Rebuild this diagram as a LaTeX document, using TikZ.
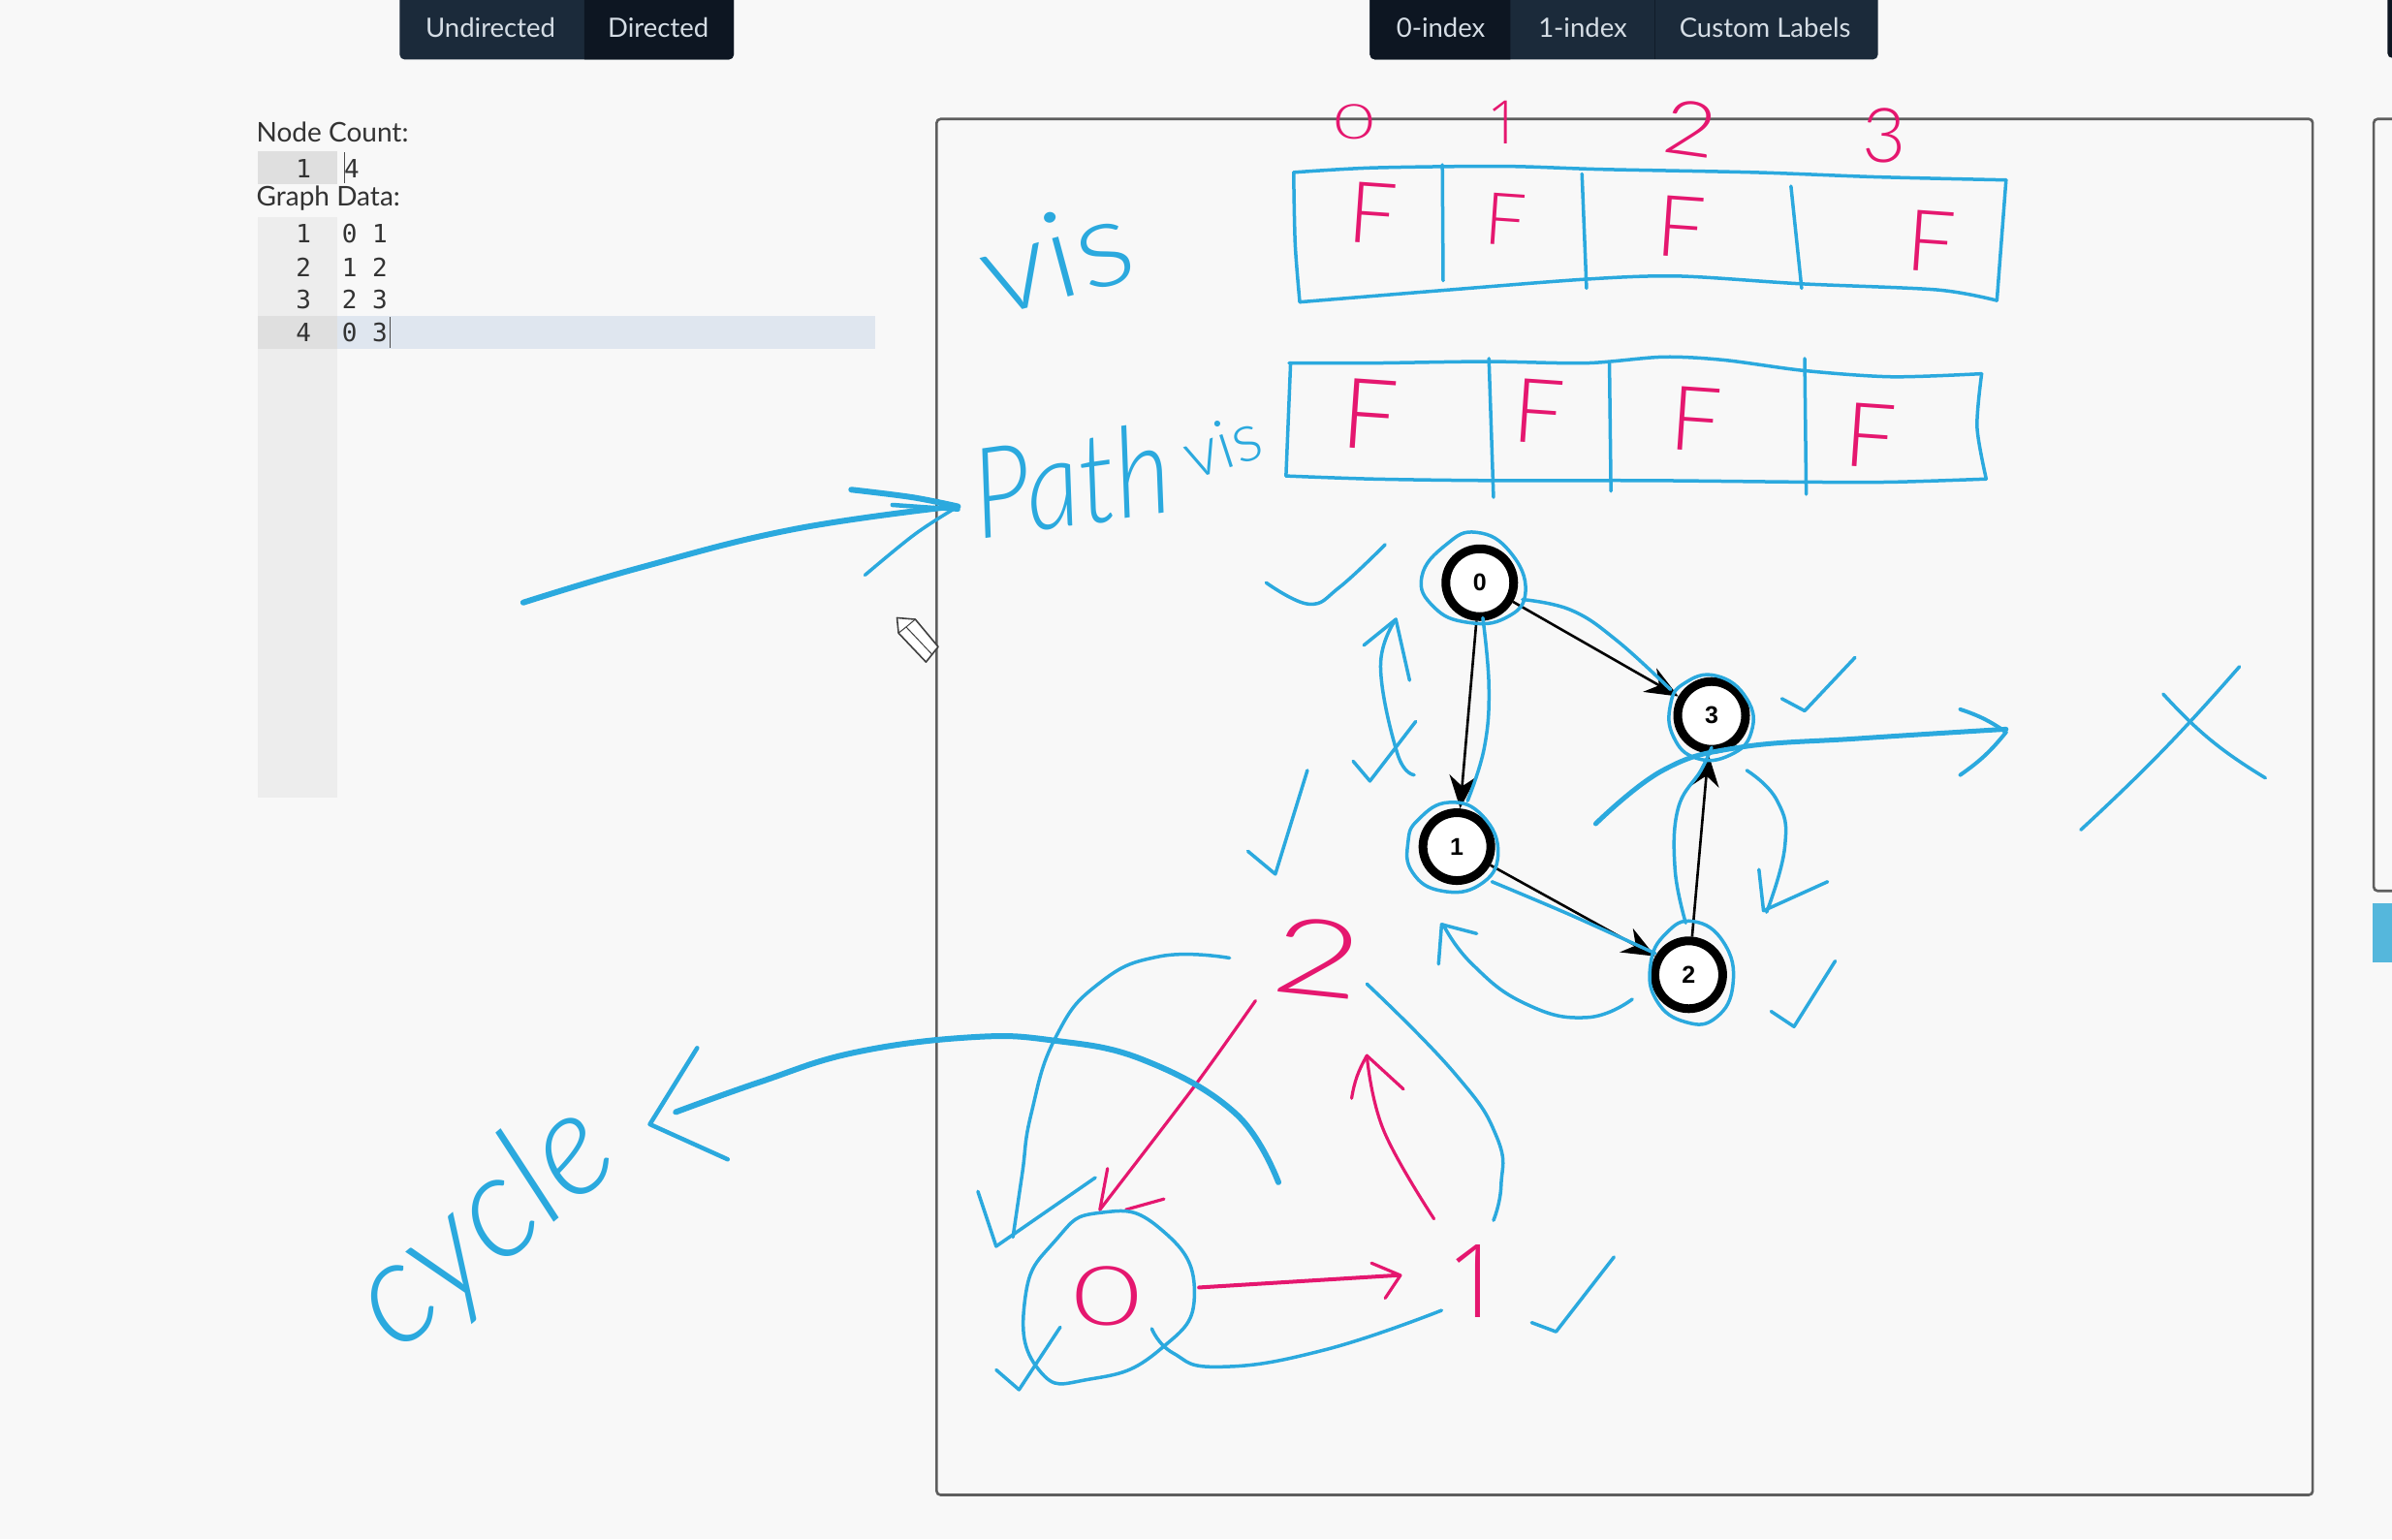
\documentclass[tikz,border=0pt]{standalone}
\usepackage{fontspec}
\usetikzlibrary{arrows.meta}
\newfontfamily\uifont{Lato}
\newfontfamily\monofont{DejaVu Sans Mono}
\newfontfamily\handfont[ItalicFont={Lato Light Italic}]{Lato Light}
\newfontfamily\handone{Open Sans Light}
\newfontfamily\nodefont{Liberation Sans}
\definecolor{bg}{HTML}{F8F8F8}
\definecolor{inkblue}{HTML}{2BA9DE}
\definecolor{inkpink}{HTML}{E5176F}
\definecolor{navy}{HTML}{1B2A3A}
\definecolor{navydark}{HTML}{0D1622}
\definecolor{uitext}{HTML}{D5DDE5}
\definecolor{gutter}{HTML}{EDEDED}
\definecolor{gutterdark}{HTML}{DFDFDF}
\definecolor{rowhi}{HTML}{DFE6EF}
\definecolor{panelline}{HTML}{5E5E5E}
\definecolor{labeltext}{HTML}{333333}
\definecolor{sidebtn}{HTML}{55B7DC}
\tikzset{
  x=1.574pt,y=-1.574pt,
  ink/.style={draw=inkblue,line width=3.5pt,line cap=round,line join=round},
  inkthick/.style={draw=inkblue,line width=6pt,line cap=round,line join=round},
  pinkline/.style={draw=inkpink,line width=3.2pt,line cap=round,line join=round},
  btnlabel/.style={text=uitext,inner sep=0pt,font=\uifont\fontsize{27.5}{27.5}\selectfont},
  formlabel/.style={text=labeltext,anchor=west,inner sep=0pt,font=\uifont\fontsize{28}{28}\selectfont},
  codetext/.style={text=labeltext,anchor=west,inner sep=0pt,font=\monofont\fontsize{26}{26}\selectfont},
  gutternum/.style={text=labeltext,inner sep=0pt,font=\monofont\fontsize{26}{26}\selectfont},
  pinkF/.style={text=inkpink,inner sep=0pt,rotate=-4,font=\handfont\fontsize{88}{88}\selectfont},
  pinkhand/.style={text=inkpink,inner sep=0pt},
  bluehand/.style={text=inkblue,inner sep=0pt},
  gnode/.style={circle,draw=black,line width=9pt,fill=white,minimum size=70pt,inner sep=0pt,font=\nodefont\bfseries\fontsize{25}{25}\selectfont},
  gedge/.style={draw=black,line width=2.6pt,-{Stealth[length=34pt,width=28pt]}},
}
\begin{document}
\begin{tikzpicture}
\useasboundingbox (0,0) rectangle (1568,1009);
\fill[bg] (0,0) rectangle (1568,1009);

% button groups
\fill[navy,rounded corners=5pt] (262,-8) rectangle (481,39);
\fill[navydark] (383,-2) [sharp corners] -- (481,-2) [rounded corners=5pt] -- (481,39) [sharp corners] -- (383,39) -- cycle;
\node[btnlabel] (btnundirected) at (321.5,18) {Undirected};
\node[btnlabel] (btndirected) at (431.5,18) {Directed};
\fill[navy,rounded corners=5pt] (898,-8) rectangle (1231,39);
\fill[navydark] (990,-2) [sharp corners] -- (898,-2) [rounded corners=5pt] -- (898,39) [sharp corners] -- (990,39) -- cycle;
\draw[navydark!70!navy,line width=1pt] (1085,0) -- (1085,39);
\node[btnlabel] (btnzero) at (944.5,18) {0-index};
\node[btnlabel] (btnone) at (1037.5,18) {1-index};
\node[btnlabel] (btncustom) at (1157,18) {Custom Labels};
\fill[navydark,rounded corners=5pt] (1565,-8) rectangle (1590,38);

% panels
\draw[panelline,line width=2.6pt,rounded corners=4pt] (614,78) rectangle (1516,980);
\draw[panelline,line width=2.6pt,rounded corners=4pt] (1590,78) -- (1556,78) -- (1556,584) -- (1590,584);
\fill[sidebtn] (1555,592) rectangle (1570,631);

% form
\fill[gutterdark] (169,99) rectangle (221,121);
\fill[gutter] (169,142) rectangle (221,523);
\fill[gutterdark] (169,207) rectangle (221,229);
\fill[rowhi] (221,207) rectangle (574,229);
\node[formlabel] (lblcount) at (168,86.5) {Node Count:};
\node[gutternum] (gc) at (199,110.5) {1};
\node[codetext] (countval) at (225.5,110.5) {4};
\node[formlabel] (lbldata) at (168,130) {Graph Data:};
\node[gutternum] (g1) at (199,153) {1};
\node[gutternum] (g2) at (199,175) {2};
\node[gutternum] (g3) at (199,196.5) {3};
\node[gutternum] (g4) at (199,218) {4};
\node[codetext] (d1) at (224,153) {0 1};
\node[codetext] (d2) at (224,175) {1 2};
\node[codetext] (d3) at (224,196.5) {2 3};
\node[codetext] (d4) at (224,218) {0 3};
\draw[black!70,line width=1pt] (226,100) -- (226,120);
\draw[black!70,line width=1pt] (256,208) -- (256,228);

% left arrow
\draw[inkthick] plot[smooth,tension=.7] coordinates {(343,395) (420,372) (520,347) (625,332)};
\draw[inkthick] plot[smooth,tension=.6] coordinates {(558,321) (598,326) (628,332)};
\draw[inkthick,line width=4.5pt] (585,331) -- (628,334);
\draw[ink] plot[smooth,tension=.6] coordinates {(567,377) (600,350) (628,332)};

% pencil cursor
\draw[black!75,fill=white,line width=1.6pt,line join=round] (588,405) -- (600,406) -- (615,424) -- (607,434) -- (589,415) -- cycle;
\draw[black!75,line width=1pt] (594,411) -- (611,429) (600,406) -- (594,411) -- (589,415);

% vis table
\draw[ink] plot[smooth,tension=.5] coordinates {(848,113) (900,110) (985,109) (1050,111) (1150,113) (1230,116) (1315,118)};
\draw[ink] (1315,118) -- (1309,197);
\draw[ink] plot[smooth,tension=.5] coordinates {(1309,197) (1270,190) (1180,186) (1100,181) (1040,183) (950,190) (852,198)};
\draw[ink] plot[smooth,tension=.5] coordinates {(852,198) (849,160) (848,113)};
\draw[ink] (945.5,108) -- (946,184);
\draw[ink] (1037,114) -- (1040,189);
\draw[ink] (1174,122) -- (1181,189);
% path table
\draw[ink] plot[smooth,tension=.5] coordinates {(845,238) (900,238) (975,237) (1040,238) (1090,234) (1130,236) (1183,243) (1240,247) (1299,245)};
\draw[ink] plot[smooth,tension=.5] coordinates {(1299,245) (1296,280) (1302,314)};
\draw[ink] plot[smooth,tension=.5] coordinates {(1302,314) (1240,316) (1183,316) (1080,315) (975,315) (900,314) (843,312)};
\draw[ink] (843,312) -- (846,238);
\draw[ink] (976,235) -- (979,326);
\draw[ink] (1055,238) -- (1056,322);
\draw[ink] (1183,235) -- (1184,324);

% pink table labels
\node[pinkF] (fa) at (900,140) {F};
\node[pinkF,scale=.85] (fb) at (987,144) {F};
\node[pinkF] (fc) at (1102,149) {F};
\node[pinkF] (fd) at (1266,158) {F};
\node[pinkF,scale=1.15] (pa) at (898,272) {F};
\node[pinkF,scale=1.05] (pb) at (1009,270) {F};
\node[pinkF,scale=1.05] (pc) at (1112,275) {F};
\node[pinkF,scale=1.05] (pd) at (1226,286) {F};
\node[pinkhand,font=\handfont\fontsize{50}{50}\selectfont] (ia) at (888,80) {\scalebox{1.45}[1]{0}};
\node[pinkhand,font=\handone\fontsize{62}{62}\selectfont] (ib) at (986,80) {1};
\node[pinkhand,rotate=-8,font=\handfont\fontsize{78}{78}\selectfont] (ic) at (1108,84) {\scalebox{1.2}[1]{2}};
\node[pinkhand,font=\handfont\fontsize{78}{78}\selectfont] (id) at (1235,89) {3};

% handwriting
\node[bluehand,rotate=15,font=\handfont\fontsize{125}{125}\selectfont] (tvis) at (692,168) {\scalebox{1.1}[1]{vis}};
\node[bluehand,rotate=8,font=\handfont\itshape\fontsize{130}{130}\selectfont] (tpath) at (702,315) {\scalebox{0.85}[1]{Path}};
\node[bluehand,rotate=18,font=\handfont\fontsize{70}{70}\selectfont] (tvissmall) at (801,292) {vis};
\node[bluehand,rotate=40,font=\handfont\itshape\fontsize{150}{150}\selectfont] (tcycle) at (318,805) {cycle};

% graph
\node[gnode] (n0) at (970,382) {0};
\node[gnode] (n3) at (1122,469) {3};
\node[gnode] (n1) at (955,555) {1};
\node[gnode] (n2) at (1107,639) {2};
\draw[gedge] (n0) -- (n1);
\draw[gedge] (n0) -- (n3);
\draw[gedge] (n1) -- (n2);
\draw[gedge] (n2) -- (n3);

% hand circles round the graph nodes
\draw[ink] plot[smooth cycle,tension=.8] coordinates {(948,357) (968,349) (990,362) (1000,388) (987,405) (962,408) (940,398) (932,378)};
\draw[ink] plot[smooth cycle,tension=.8] coordinates {(930,537) (950,526) (972,535) (982,560) (970,580) (945,584) (926,572) (923,552)};
\draw[ink] plot[smooth cycle,tension=.8] coordinates {(1092,612) (1110,604) (1130,618) (1136,645) (1125,667) (1105,670) (1086,656) (1082,632)};
\draw[ink] plot[smooth cycle,tension=.8] coordinates {(1104,448) (1125,443) (1145,458) (1148,480) (1134,495) (1112,497) (1097,483) (1095,462)};

% hand traversal arrows
\draw[ink] plot[smooth,tension=.7] coordinates {(998,393) (1030,400) (1060,420) (1095,452)};
\draw[ink] plot[smooth,tension=.7] coordinates {(972,405) (976,450) (973,490) (962,525)};
\draw[ink] plot[smooth,tension=.6] coordinates {(978,578) (1030,600) (1085,625)};
\draw[ink] plot[smooth,tension=.7] coordinates {(1105,605) (1098,570) (1100,530) (1115,505) (1122,490)};
\draw[ink] plot[smooth,tension=.8] coordinates {(1145,505) (1165,525) (1170,555) (1158,598)};
\draw[ink] (1153,570) -- (1156,597) -- (1198,578);
\draw[ink] plot[smooth,tension=.8] coordinates {(1070,655) (1040,667) (1000,658) (965,632) (946,606)};
\draw[ink] (943,632) -- (945,606) -- (968,612);
\draw[ink] plot[smooth,tension=.7] coordinates {(927,508) (916,494) (905,437) (915,406)};
\draw[ink] (894,423) -- (915,406) -- (924,446);
\draw[ink] (887,499) -- (898,512) -- (928,473);

% check marks
\draw[ink] plot[smooth,tension=.7] coordinates {(830,382) (858,396) (878,385) (908,357)};
\draw[ink] (818,558) -- (836,573) -- (857,505);
\draw[ink] (1168,458) -- (1183,466) -- (1216,431);
\draw[ink] (1161,663) -- (1176,673) -- (1203,630);
\draw[ink] (1004,867) -- (1020,873) -- (1058,824);
\draw[ink] (653,898) -- (668,911) -- (695,870);

% exit arrow and cross
\draw[inkthick,line width=5pt] plot[smooth,tension=.7] coordinates {(1046,540) (1090,505) (1140,490) (1220,484) (1315,478)};
\draw[inkthick,line width=4pt] (1285,465) to[bend left=8] (1315,480) to[bend left=8] (1285,508);
\draw[ink] (1364,544) to[bend right=3] (1468,437);
\draw[ink] (1418,455) to[bend right=8] (1485,510);

% lower sketch: pink graph
\node[pinkhand,rotate=-6,font=\handfont\fontsize{110}{110}\selectfont] (low2) at (864,628) {\scalebox{1.45}[1]{2}};
\node[pinkhand,font=\handone\fontsize{105}{105}\selectfont] (low1) at (967,840) {1};
\node[pinkhand,font=\handfont\fontsize{85}{85}\selectfont] (low0) at (726,850) {\scalebox{1.45}[1]{0}};
\draw[pinkline] plot[smooth,tension=.5] coordinates {(823,656) (783,712) (721,793)};
\draw[pinkline] (726,766) -- (721,793);
\draw[pinkline] (763,786) -- (738,793);
\draw[pinkline] plot[smooth,tension=.7] coordinates {(940,799) (907,741) (896,692)};
\draw[pinkline] (886,720) to[bend left=10] (896,692) -- (920,714);
\draw[pinkline,line width=4pt] (786,844) -- (916,836);
\draw[pinkline] (899,828) -- (918,836) -- (908,851);

% lower sketch: blue strokes
\draw[inkthick] plot[smooth,tension=.7] coordinates {(838,775) (810,730) (750,695) (690,682) (636,680) (560,690) (499,709) (443,729)};
\draw[inkthick,line width=4.5pt] (457,687) -- (426,737) -- (477,760);
\draw[ink] plot[smooth,tension=.8] coordinates {(806,628) (760,627) (720,645) (692,680) (676,730) (670,770) (664,811)};
\draw[ink] (641,781) -- (653,817) -- (718,772);
\draw[ink] plot[smooth cycle,tension=.9] coordinates {(721,795) (760,805) (783,847) (760,885) (715,904) (681,898) (672,851) (692,813)};
\draw[ink] plot[smooth,tension=.8] coordinates {(945,859) (868,885) (800,896) (769,887) (755,871)};
\draw[ink] plot[smooth,tension=.8] coordinates {(896,645) (953,703) (981,745) (984,777) (979,800)};
\end{tikzpicture}
\end{document}
